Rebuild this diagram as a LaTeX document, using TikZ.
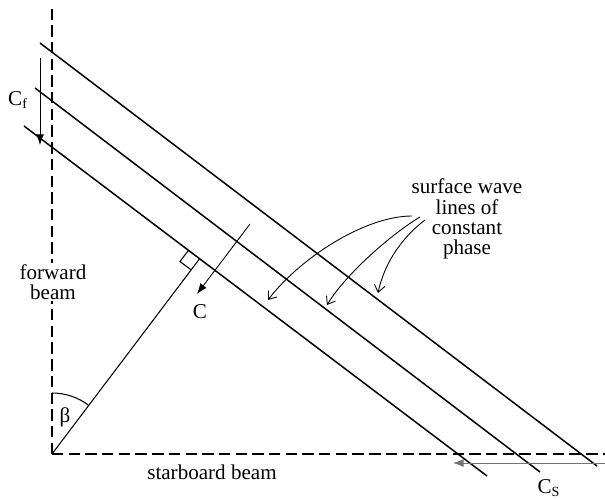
\documentclass[tikz,border=0pt]{standalone}
\usepackage{fontspec}
\setmainfont{Liberation Serif}
\usepackage{tikz}
\usetikzlibrary{
    arrows.meta,
    calc
}

\begin{document}
\begin{tikzpicture}[
            x=0.02cm, y=0.02cm,
            beam/.style={line width=0.85pt, dash pattern=on 6.5pt off 3pt},
            wave/.style={line width=0.85pt},
            ray/.style={line width=0.6pt},
            vel/.style={-{Latex[length=6pt, width=4.5pt]}, line width=0.5pt},
            note/.style={-{Straight Barb[length=4pt, width=6pt]}, line width=0.5pt},
            lbl/.style={font=\fontsize{12}{11.5}\selectfont, align=center, inner sep=1pt},
        ]
            \useasboundingbox (-52,-46) rectangle (553,454);

            % ====== Beams ======
            \coordinate (O) at (0,0);
            \coordinate (fwdtop) at (0,449);
            \coordinate (stbend) at (553,0);
            \draw[beam] (O) -- (fwdtop);
            \draw[beam] (O) -- (stbend);

            % ====== Lines of constant phase ======
            \coordinate (L1a) at (-12,411);
            \coordinate (L1b) at (545,-12);
            \coordinate (L2a) at (-17,366);
            \coordinate (L2b) at (488,-18);
            \coordinate (L3a) at (-28,328);
            \coordinate (L3b) at (435,-22);
            \draw[wave] (L1a) -- (L1b);
            \draw[wave] (L2a) -- (L2b);
            \draw[wave] (L3a) -- (L3b);

            % ====== Normal to the wave front ======
            \coordinate (F) at ($(L3a)!(O)!(L3b)$);
            \draw[ray] (O) -- (F);
            \coordinate (sqa) at ($(F)!0.28cm!(L3a)$);
            \coordinate (sqb) at ($(F)!0.28cm!(O)$);
            \draw[ray] (sqa) -- ($(sqa)+(sqb)-(F)$) -- (sqb);

            % angle beta
            \draw[ray] (0,61) arc[start angle=90, end angle=52.8, radius=61];
            \node[lbl] (beta) at (13,37) {β};

            % ====== Phase speeds ======
            \coordinate (Cstart) at (198,230);
            \coordinate (Cend) at (145,160);
            \draw[vel] (Cstart) -- (Cend);
            \node[lbl] (clbl) at (148,142) {C};

            \coordinate (Cfstart) at (-12,396);
            \coordinate (Cfend) at (-12,309);
            \draw[vel] (Cfstart) -- (Cfend);
            \node[lbl] (cflbl) at (-34,354) {C\textsubscript{f}};

            \coordinate (Csstart) at (553,-9);
            \coordinate (Csend) at (401,-9);
            \draw[vel, black!55] (Csstart) -- (Csend);
            \node[lbl] (cslbl) at (497,-34) {C\textsubscript{S}};

            % ====== Labels ======
            \node[lbl, fill=white] (fwd) at (1,172) {forward\\beam};
            \node[lbl] (stb) at (160,-18) {starboard beam};
            \node[lbl] (phase) at (415,235) {surface wave\\lines of\\constant\\phase};

            % ====== Pointers to the wave lines ======
            \draw[note] (360,238) .. controls (313,238) and (248,196) .. (216,154);
            \draw[note] (368,237) .. controls (338,219) and (293,179) .. (275,149);
            \draw[note] (373,234) .. controls (353,219) and (333,194) .. (326,161);
        \end{tikzpicture}
\end{document}
